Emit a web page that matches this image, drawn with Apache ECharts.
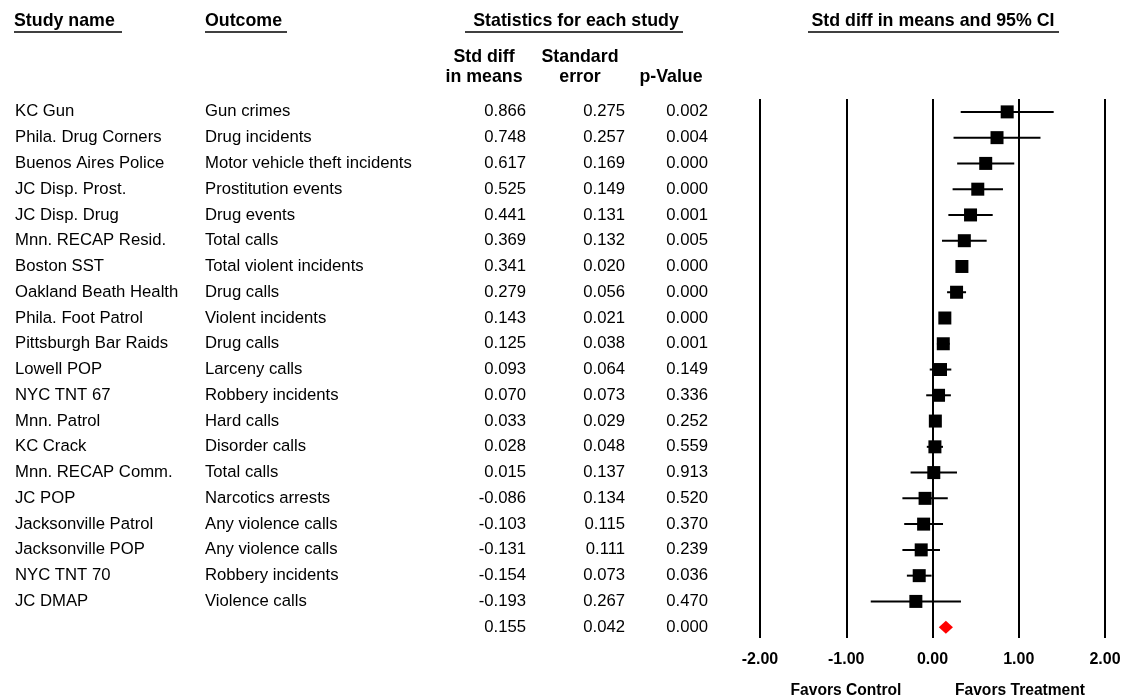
<!DOCTYPE html>
<html>
<head>
<meta charset="utf-8">
<script src="https://cdn.jsdelivr.net/npm/echarts@6/dist/echarts.min.js"></script>
<style>
html,body{margin:0;padding:0;background:#fff;}
#chart{width:1124px;height:698px;}
</style>
</head>
<body>
<div id="chart"></div>
<script>
// ---------- DATA ----------
var studies = ["KC Gun","Phila. Drug Corners","Buenos Aires Police","JC Disp. Prost.","JC Disp. Drug",
  "Mnn. RECAP Resid.","Boston SST","Oakland Beath Health","Phila. Foot Patrol","Pittsburgh Bar Raids",
  "Lowell POP","NYC TNT 67","Mnn. Patrol","KC Crack","Mnn. RECAP Comm.","JC POP",
  "Jacksonville Patrol","Jacksonville POP","NYC TNT 70","JC DMAP"];
var outcomes = ["Gun crimes","Drug incidents","Motor vehicle theft incidents","Prostitution events","Drug events",
  "Total calls","Total violent incidents","Drug calls","Violent incidents","Drug calls",
  "Larceny calls","Robbery incidents","Hard calls","Disorder calls","Total calls","Narcotics arrests",
  "Any violence calls","Any violence calls","Robbery incidents","Violence calls"];
var stdDiff = [0.866,0.748,0.617,0.525,0.441,0.369,0.341,0.279,0.143,0.125,0.093,0.070,0.033,0.028,0.015,-0.086,-0.103,-0.131,-0.154,-0.193];
var stdErr  = [0.275,0.257,0.169,0.149,0.131,0.132,0.020,0.056,0.021,0.038,0.064,0.073,0.029,0.048,0.137,0.134,0.115,0.111,0.073,0.267];
var pValues = ["0.002","0.004","0.000","0.000","0.001","0.005","0.000","0.000","0.000","0.001","0.149","0.336","0.252","0.559","0.913","0.520","0.370","0.239","0.036","0.470"];
var ciLower = [0.327,0.244,0.286,0.233,0.184,0.110,0.302,0.169,0.102,0.051,-0.032,-0.073,-0.024,-0.066,-0.254,-0.349,-0.328,-0.349,-0.297,-0.716];
var ciUpper = [1.405,1.252,0.948,0.817,0.698,0.628,0.380,0.389,0.184,0.199,0.218,0.213,0.090,0.122,0.284,0.177,0.122,0.087,-0.011,0.330];
var summaryValues = {est:0.155, se:0.042, p:"0.000", lo:0.073, hi:0.237};
var xTicks = [-2,-1,0,1,2];

// ---------- LAYOUT ----------
var FONT = "'Liberation Sans', Arial, sans-serif";
var ROW_MIN = -0.5, ROW_MAX = 20.42;
var col = {study:15, outcome:205, sd:526, se:625, p:708};

var tableRows = [];
for (var i = 0; i < studies.length; i++) {
  tableRows.push([i, studies[i], outcomes[i], stdDiff[i].toFixed(3), stdErr[i].toFixed(3), pValues[i]]);
}
tableRows.push([studies.length, "", "", summaryValues.est.toFixed(3), summaryValues.se.toFixed(3), summaryValues.p]);

var forestRows = [];
for (var j = 0; j < studies.length; j++) forestRows.push([stdDiff[j], j, ciLower[j], ciUpper[j]]);
var summaryRow = [[summaryValues.est, studies.length, summaryValues.lo, summaryValues.hi]];

function txt(x, y, s, align, bold, size) {
  return {type:'text', x:x, y:y, style:{text:s, fill:'#000', align:align, verticalAlign:'middle',
    font:(bold?'bold ':'') + (size||16.7) + 'px ' + FONT}};
}
function uline(x1, x2, y) {
  return {type:'line', shape:{x1:x1,y1:y,x2:x2,y2:y}, style:{stroke:'#000', lineWidth:1.5}};
}

var chart = echarts.init(document.getElementById('chart'), null, {renderer:'canvas'});
var option = {
  animation:false,
  backgroundColor:'#fff',
  grid:[
    {left:760, right:19, top:99, bottom:60},
    {left:0, right:0, top:99, bottom:60}
  ],
  xAxis:[
    {type:'value', gridIndex:0, min:-2, max:2, interval:1,
     axisLine:{show:false}, axisTick:{show:false},
     splitLine:{show:true, lineStyle:{color:'#000', width:2}},
     axisLabel:{margin:14, fontFamily:FONT, fontWeight:'bold', fontSize:16, color:'#000',
       formatter:function(v){return v.toFixed(2);}}},
    {type:'value', gridIndex:1, min:0, max:1124, show:false}
  ],
  yAxis:[
    {type:'value', gridIndex:0, inverse:true, min:ROW_MIN, max:ROW_MAX, show:false},
    {type:'value', gridIndex:1, inverse:true, min:ROW_MIN, max:ROW_MAX, show:false}
  ],
  series:[
    { // table text
      type:'custom', xAxisIndex:1, yAxisIndex:1, data:tableRows, silent:true,
      renderItem:function(params, api){
        var r = api.value(0);
        var y = api.coord([0, r])[1];
        var d = tableRows[params.dataIndex];
        var kids = [];
        if (d[1]) kids.push(txt(api.coord([col.study, r])[0], y, d[1], 'left'));
        if (d[2]) kids.push(txt(api.coord([col.outcome, r])[0], y, d[2], 'left'));
        kids.push(txt(api.coord([col.sd, r])[0], y, d[3], 'right'));
        kids.push(txt(api.coord([col.se, r])[0], y, d[4], 'right'));
        kids.push(txt(api.coord([col.p, r])[0], y, d[5], 'right'));
        return {type:'group', children:kids};
      }
    },
    { // study CIs and squares
      type:'custom', xAxisIndex:0, yAxisIndex:0, data:forestRows, silent:true,
      renderItem:function(params, api){
        var c = api.coord([api.value(0), api.value(1)]);
        var lo = api.coord([api.value(2), api.value(1)]);
        var hi = api.coord([api.value(3), api.value(1)]);
        var s = 13;
        return {type:'group', children:[
          {type:'line', shape:{x1:lo[0], y1:c[1], x2:hi[0], y2:c[1]}, style:{stroke:'#000', lineWidth:2}},
          {type:'rect', shape:{x:c[0]-s/2, y:c[1]-s/2, width:s, height:s}, style:{fill:'#000'}}
        ]};
      }
    },
    { // summary diamond
      type:'custom', xAxisIndex:0, yAxisIndex:0, data:summaryRow, silent:true,
      renderItem:function(params, api){
        var c = api.coord([api.value(0), api.value(1)]);
        var lo = api.coord([api.value(2), api.value(1)]);
        var hi = api.coord([api.value(3), api.value(1)]);
        var h = 6.5;
        return {type:'polygon', shape:{points:[[lo[0],c[1]],[c[0],c[1]-h],[hi[0],c[1]],[c[0],c[1]+h]]},
          style:{fill:'#ff0000'}};
      }
    }
  ],
  graphic:[
    txt(14, 21, 'Study name', 'left', true, 17.8),
    uline(14, 122, 32),
    txt(205, 21, 'Outcome', 'left', true, 17.8),
    uline(205, 287, 32),
    txt(576, 21, 'Statistics for each study', 'center', true, 17.8),
    uline(465, 683, 32),
    txt(933, 21, 'Std diff in means and 95% CI', 'center', true, 17.8),
    uline(808, 1059, 32),
    txt(484, 57, 'Std diff', 'center', true, 17.8),
    txt(484, 77, 'in means', 'center', true, 17.8),
    txt(580, 57, 'Standard', 'center', true, 17.8),
    txt(580, 77, 'error', 'center', true, 17.8),
    txt(671, 77, 'p-Value', 'center', true, 17.8),
    txt(846, 691, 'Favors Control', 'center', true, 15.6),
    txt(1020, 691, 'Favors Treatment', 'center', true, 15.6)
  ]
};
chart.setOption(option);
</script>
</body>
</html>
